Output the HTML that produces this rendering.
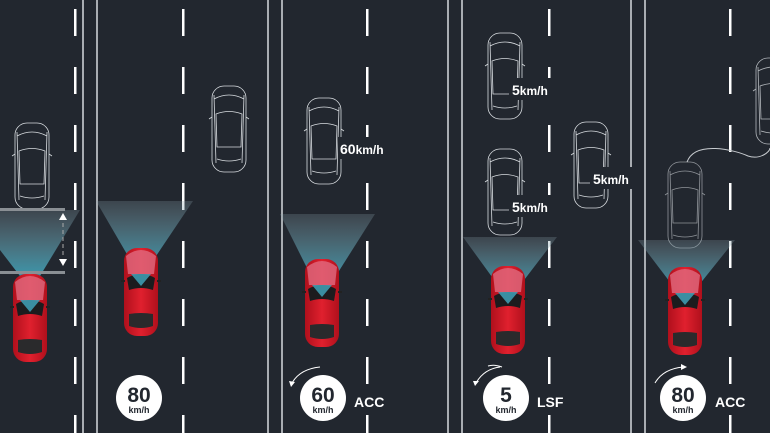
<!DOCTYPE html>
<html><head><meta charset="utf-8"><style>
html,body{margin:0;padding:0;background:#22272f;}
svg{display:block}
text{font-family:"Liberation Sans",sans-serif;fill:#fff;font-weight:bold}
</style></head><body>
<svg width="770" height="433" viewBox="0 0 770 433" xmlns="http://www.w3.org/2000/svg">
<defs>
<linearGradient id="cone" x1="0" y1="0" x2="0" y2="1">
<stop offset="0" stop-color="#8aa0aa" stop-opacity="0.25"/>
<stop offset="1" stop-color="#3fa2b8" stop-opacity="0.9"/>
</linearGradient>
<linearGradient id="body" x1="0" y1="0" x2="1" y2="0">
<stop offset="0" stop-color="#b0101c"/><stop offset="0.5" stop-color="#e0202e"/><stop offset="1" stop-color="#b0101c"/>
</linearGradient>
<g id="red">
<rect x="-17" y="-44" width="34" height="88" rx="13" fill="url(#body)"/>
<path d="M-15,-36 Q0,-48 15,-36 L13,-18 L-13,-18Z" fill="#e06a80" opacity="0.8"/>
<path d="M-14,-14 Q0,-22 14,-14 L12,-2 Q0,-6 -12,-2Z" fill="#1c1c1e"/>
<polygon points="-10,-18 10,-18 0,-6" fill="#3fa2b8" opacity="0.85"/>
<path d="M-12,22 Q0,20 12,22 L12,34 Q0,38 -12,34Z" fill="#2a2a2c"/>
<rect x="-20" y="-12" width="4" height="2" fill="#222"/><rect x="16" y="-12" width="4" height="2" fill="#222"/>
</g>
<g id="ol" fill="none" stroke="#d8dce0" stroke-width="0.8">
<rect x="-17" y="-43" width="34" height="86" rx="12"/>
<path d="M-15,-30 Q0,-38 15,-30 M-13,-15 Q0,-20 13,-15 L12,18 L-12,18Z M-12,30 Q0,34 12,30 M-15,-34 L-13,34 M15,-34 L13,34"/>
<path d="M-17,-12 l-3,2 M17,-12 l3,2"/>
</g>
</defs>
<g fill="#a9adb2">
<rect x="82" y="0" width="2" height="433"/><rect x="96" y="0" width="2" height="433"/>
<rect x="267" y="0" width="2" height="433"/><rect x="281" y="0" width="2" height="433"/>
<rect x="447" y="0" width="2" height="433"/><rect x="461" y="0" width="2" height="433"/>
<rect x="630" y="0" width="2" height="433"/><rect x="644" y="0" width="2" height="433"/>
</g>
<g fill="#fff" id="dash">
<rect x="74" y="9" width="2.5" height="27"/><rect x="74" y="67" width="2.5" height="27"/><rect x="74" y="125" width="2.5" height="27"/><rect x="74" y="183" width="2.5" height="27"/><rect x="74" y="241" width="2.5" height="27"/><rect x="74" y="299" width="2.5" height="27"/><rect x="74" y="357" width="2.5" height="27"/><rect x="74" y="415" width="2.5" height="27"/>
</g>
<use href="#dash" x="108"/><use href="#dash" x="292"/><use href="#dash" x="474"/><use href="#dash" x="655"/>
<use href="#ol" x="32" y="166"/>
<polygon points="0,210 80,210 40,276 20,276 0,250" fill="url(#cone)"/>
<rect x="0" y="208" width="65" height="3" fill="#8a8f94"/>
<rect x="0" y="271" width="65" height="3" fill="#8a8f94"/>
<polygon points="59,220 67,220 63,213" fill="#fff"/><polygon points="59,259 67,259 63,266" fill="#fff"/>
<line x1="63" y1="223" x2="63" y2="257" stroke="#aaa" stroke-dasharray="4,3"/>
<use href="#red" x="30" y="318"/>
<use href="#ol" x="229" y="129"/>
<polygon points="96,201 193,201 148,268 135,268" fill="url(#cone)"/>
<use href="#red" x="141" y="292"/>
<use href="#ol" x="324" y="141"/>
<polygon points="280,214 375,214 332,282 314,282" fill="url(#cone)"/>
<use href="#red" x="322" y="303"/>
<rect x="338" y="137" width="74" height="22" fill="#22272f"/>
<text x="340" y="154" font-size="14">60<tspan font-size="12">km/h</tspan></text>
<use href="#ol" x="505" y="76"/><use href="#ol" x="505" y="192"/><use href="#ol" x="591" y="165"/>
<rect x="509" y="78" width="50" height="22" fill="#22272f"/>
<text x="512" y="95" font-size="14">5<tspan font-size="12">km/h</tspan></text>
<rect x="509" y="195" width="50" height="22" fill="#22272f"/>
<text x="512" y="212" font-size="14">5<tspan font-size="12">km/h</tspan></text>
<rect x="590" y="167" width="50" height="22" fill="#22272f"/>
<text x="593" y="184" font-size="14">5<tspan font-size="12">km/h</tspan></text>
<polygon points="463,237 557,237 518,288 500,288" fill="url(#cone)"/>
<use href="#red" x="508" y="310"/>
<use href="#ol" x="773" y="101" opacity="0.8"/>
<use href="#ol" x="685" y="205" opacity="0.6"/>
<path d="M687,162 C695,140 735,150 748,156 C760,160 770,152 770,148" fill="none" stroke="#c8ccd0" stroke-width="1"/>
<polygon points="638,240 735,240 695,290 676,290" fill="url(#cone)"/>
<use href="#red" x="685" y="311"/>
<g>
<circle cx="139" cy="398" r="23" fill="#fff"/>
<text x="139" y="402" font-size="21" text-anchor="middle" style="fill:#22272f">80</text>
<text x="139" y="413" font-size="9" text-anchor="middle" style="fill:#22272f">km/h</text>
<circle cx="323" cy="398" r="23" fill="#fff"/>
<text x="323" y="402" font-size="21" text-anchor="middle" style="fill:#22272f">60</text>
<text x="323" y="413" font-size="9" text-anchor="middle" style="fill:#22272f">km/h</text>
<text x="354" y="407" font-size="14">ACC</text>
<circle cx="506" cy="398" r="23" fill="#fff"/>
<text x="506" y="402" font-size="21" text-anchor="middle" style="fill:#22272f">5</text>
<text x="506" y="413" font-size="9" text-anchor="middle" style="fill:#22272f">km/h</text>
<text x="537" y="407" font-size="14">LSF</text>
<circle cx="683" cy="398" r="23" fill="#fff"/>
<text x="683" y="402" font-size="21" text-anchor="middle" style="fill:#22272f">80</text>
<text x="683" y="413" font-size="9" text-anchor="middle" style="fill:#22272f">km/h</text>
<text x="715" y="407" font-size="14">ACC</text>
</g>
<g fill="none" stroke="#fff" stroke-width="1">
<path d="M320,367 Q300,369 292,383"/><path d="M476,383 Q484,369 500,367 M502,367 Q494,364 488,366"/><path d="M655,383 Q663,369 683,367"/>
</g>
<g fill="#fff">
<polygon points="289,381 295,382 291,387"/>
<polygon points="473,381 479,381 475,386"/>
<polygon points="681,364 687,367 681,370"/>
</g>
</svg>
</body></html>
